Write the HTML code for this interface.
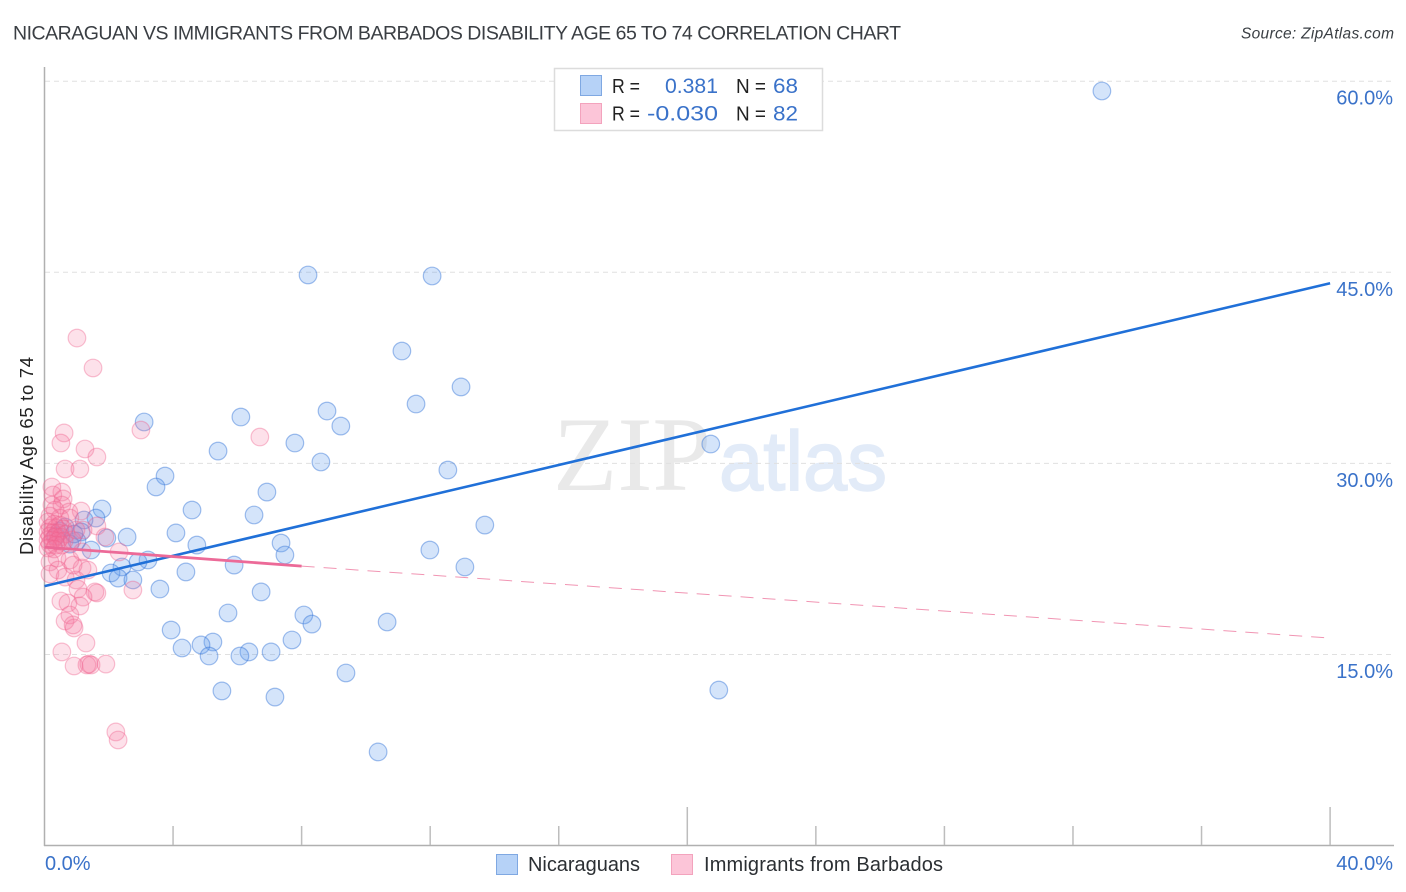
<!DOCTYPE html>
<html lang="en">
<head>
<meta charset="utf-8">
<title>Nicaraguan vs Immigrants from Barbados Disability Age 65 to 74 Correlation Chart</title>
<style>
html,body{margin:0;padding:0;background:#fff;width:1406px;height:892px;overflow:hidden}
svg{display:block;font-family:"Liberation Sans",sans-serif}
</style>
</head>
<body>
<svg id="chart" width="1406" height="892" viewBox="0 0 1406 892" xmlns="http://www.w3.org/2000/svg">
  <rect width="1406" height="892" fill="#fff"/>
  <text x="13" y="39.500" font-size="19.500" fill="#3a3e43" textLength="888" lengthAdjust="spacing">NICARAGUAN VS IMMIGRANTS FROM BARBADOS DISABILITY AGE 65 TO 74 CORRELATION CHART</text>
  <text x="1394" y="38.500" font-size="15.500" font-style="italic" fill="#3a3f44" text-anchor="end" textLength="153" lengthAdjust="spacing">Source: ZipAtlas.com</text>
  <g>
    <text x="553" y="490" font-family="'Liberation Serif',serif" font-size="106" fill="#e9e9e9" textLength="158" lengthAdjust="spacingAndGlyphs">ZIP</text>
    <text x="719" y="490" font-size="84" fill="#e2ebf8" stroke="#e2ebf8" stroke-width="1.500" textLength="168" lengthAdjust="spacingAndGlyphs">atlas</text>
  </g>
  <g id="grid"></g>
  <g id="axes"></g>
  <g id="pointsBlue"></g>
  <g id="pointsPink"></g>
  <g id="trends"></g>
  <text transform="translate(33,555) rotate(-90)" font-size="18.500" fill="#222" textLength="198" lengthAdjust="spacing">Disability Age 65 to 74</text>

  <g>
    <rect x="554.500" y="68.500" width="268" height="62" fill="#fff" stroke="#dcdcdc" stroke-width="1.500"/>
    <rect x="580.500" y="75.500" width="21" height="20" fill="#b6d2f7" stroke="#7fa8e2" stroke-width="1"/>
    <rect x="580.500" y="103.500" width="21" height="20" fill="#fcc5d8" stroke="#f3a3bd" stroke-width="1"/>
    <text x="612" y="93" font-size="20" fill="#222" textLength="28" lengthAdjust="spacingAndGlyphs">R =</text>
    <text x="665" y="93" font-size="21" fill="#3a72c9" textLength="53" lengthAdjust="spacingAndGlyphs">0.381</text>
    <text x="736" y="93" font-size="20" fill="#222" textLength="30" lengthAdjust="spacingAndGlyphs">N =</text>
    <text x="773" y="93" font-size="21" fill="#3a72c9" textLength="25" lengthAdjust="spacingAndGlyphs">68</text>
    <text x="612" y="120.500" font-size="20" fill="#222" textLength="28" lengthAdjust="spacingAndGlyphs">R =</text>
    <text x="647" y="120.500" font-size="21" fill="#3a72c9" textLength="71" lengthAdjust="spacingAndGlyphs">-0.030</text>
    <text x="736" y="120.500" font-size="20" fill="#222" textLength="30" lengthAdjust="spacingAndGlyphs">N =</text>
    <text x="773" y="120.500" font-size="21" fill="#3a72c9" textLength="25" lengthAdjust="spacingAndGlyphs">82</text>
  </g>

  <g>
    <rect x="496.500" y="854.500" width="21" height="20" fill="#b6d2f7" stroke="#7fa8e2" stroke-width="1"/>
    <text x="528" y="871" font-size="20" fill="#2b2f33" textLength="112" lengthAdjust="spacing">Nicaraguans</text>
    <rect x="671.500" y="854.500" width="21" height="20" fill="#fcc5d8" stroke="#f3a3bd" stroke-width="1"/>
    <text x="704" y="871" font-size="20" fill="#2b2f33" textLength="239" lengthAdjust="spacing">Immigrants from Barbados</text>
  </g>
</svg>
<script>
const yTickValues = [15, 30, 45, 60];
const yTickLabels = ["15.0%", "30.0%", "45.0%", "60.0%"];
const xTickValues = [4, 8, 12, 16, 20, 24, 28, 32, 36, 40];
const xMajorTicks = [20, 40];
const xEndValues = [0, 40];
const xEndLabels = ["0.0%", "40.0%"];

const nicaraguansX = [32.90,8.20,12.06,11.12,12.96,11.56,8.79,6.11,3.10,9.22,7.79,20.73,5.40,8.60,12.55,3.75,3.47,6.92,4.59,6.52,1.79,13.70,1.60,1.23,4.09,2.57,1.94,4.74,7.36,7.48,11.99,1.45,1.14,0.79,3.22,2.91,5.90,13.08,2.41,2.07,2.29,4.40,2.75,3.59,6.74,5.71,8.07,8.32,10.66,3.94,7.70,5.24,4.87,4.28,7.05,6.36,6.08,5.12,9.38,5.52,20.98,7.17,10.38,1.01,0.48,0.64,0.36,0.92];
const nicaraguansY = [59.23,44.79,44.71,38.82,36.00,34.66,34.11,33.64,33.25,32.93,31.60,31.52,30.97,30.11,29.48,29.01,28.15,27.75,26.34,25.95,26.42,25.16,25.71,25.56,24.54,24.22,24.14,23.59,23.75,22.81,23.20,23.20,24.62,23.67,22.42,22.26,22.02,21.87,21.87,21.40,21.00,21.48,20.85,20.14,19.91,18.26,18.10,17.39,17.55,16.92,16.14,15.98,15.75,15.51,15.20,15.20,14.88,14.88,13.55,12.14,12.21,11.66,7.35,23.91,24.69,25.01,24.30,24.46];

const barbadosX = [1.01,1.51,3.00,6.70,0.61,0.51,1.26,1.63,0.64,1.10,0.23,0.54,0.26,0.58,0.23,0.54,0.33,1.14,0.76,0.79,0.48,0.17,1.63,1.20,1.88,2.32,0.11,0.30,0.48,0.17,0.36,0.58,0.11,0.26,0.42,0.67,0.17,0.33,0.51,0.11,0.26,0.42,0.61,0.17,0.36,0.54,0.86,0.98,0.11,0.30,0.39,0.79,0.17,1.17,0.42,0.17,0.64,0.98,1.04,1.63,1.57,1.20,2.75,0.51,0.73,1.10,0.79,0.64,0.92,0.89,1.29,0.54,0.92,1.38,1.32,1.45,1.91,2.22,2.29,1.17,0.89,1.35];
const barbadosY = [39.84,37.49,32.62,32.07,32.39,31.60,31.13,30.50,29.56,29.56,28.15,27.75,27.52,27.21,26.73,26.73,26.34,26.26,26.18,25.71,25.71,25.87,25.09,24.77,24.22,23.05,25.40,25.24,25.16,24.93,24.93,24.85,24.61,24.54,24.54,24.46,24.30,24.22,24.22,23.99,23.99,23.91,23.91,23.67,23.59,23.59,23.99,24.77,23.36,23.28,22.57,22.42,22.26,21.79,21.63,21.32,21.08,20.85,20.14,19.83,19.91,19.51,20.06,19.20,19.04,18.81,18.10,17.63,17.08,17.32,15.90,15.20,14.10,14.25,14.18,14.18,14.25,8.92,8.29,23.05,22.02,21.63];

const blueTrendX = [0, 40];
const blueTrendY = [20.37, 44.14];
const pinkSolidX = [0, 8];
const pinkSolidY = [23.43, 21.94];
const pinkDashX = [8, 40];
const pinkDashY = [21.94, 16.29];

const NS = 'http://www.w3.org/2000/svg';
const xScale = v => 44.5 + v * 32.14;
const yScale = v => 654.5 - (v - 15) * 12.74;

function make(tag, attrs, parent) {
  const el = document.createElementNS(NS, tag);
  for (const k in attrs) el.setAttribute(k, attrs[k]);
  parent.appendChild(el);
  return el;
}

const grid = document.getElementById('grid');
const axes = document.getElementById('axes');

yTickValues.forEach((v, i) => {
  const line = make('line', {x1: 45, x2: 1394, y1: yScale(v), y2: yScale(v), stroke: '#e0e0e0', 'stroke-width': 1, 'stroke-dasharray': '5 4'}, grid);
  
  
  const label = make('text', {x: 1393, y: yScale(v) + 23.5, 'font-size': 20, fill: '#3a72c9', 'text-anchor': 'end'}, axes);
  label.textContent = yTickLabels[i];
  
  
});

const yAxis = make('line', {x1: 44.5, x2: 44.5, y1: 67, y2: 846, stroke: '#b0b0b0', 'stroke-width': 1.5}, axes);


const xAxis = make('line', {x1: 44, x2: 1394, y1: 845.5, y2: 845.5, stroke: '#b0b0b0', 'stroke-width': 1.5}, axes);



xTickValues.forEach(v => {
  const top = xMajorTicks.includes(v) ? 807 : 826;
  const tick = make('line', {x1: xScale(v), x2: xScale(v), y1: top, y2: 845, stroke: '#bdbdbd', 'stroke-width': 1.5}, axes);
  
  
});

xEndValues.forEach((v, i) => {
  const anchorX = i === 0 ? 45 : 1393;
  const label = make('text', {x: anchorX, y: 870, 'font-size': 20, fill: '#3a72c9', 'text-anchor': i === 0 ? 'start' : 'end'}, axes);
  label.textContent = xEndLabels[i];
  
  
});

const blueGroup = document.getElementById('pointsBlue');
nicaraguansX.forEach((x, i) => {
  const c = make('circle', {cx: xScale(x), cy: yScale(nicaraguansY[i]), r: 8.8, fill: 'rgba(96,156,236,0.27)', stroke: 'rgba(50,115,215,0.45)', 'stroke-width': 1.2}, blueGroup);
  
  
});

const pinkGroup = document.getElementById('pointsPink');
barbadosX.forEach((x, i) => {
  const c = make('circle', {cx: xScale(x), cy: yScale(barbadosY[i]), r: 8.8, fill: 'rgba(244,120,160,0.22)', stroke: 'rgba(238,95,140,0.38)', 'stroke-width': 1.2}, pinkGroup);
  
  
});

const trends = document.getElementById('trends');
const pinkDash = make('line', {x1: xScale(pinkDashX[0]), y1: yScale(pinkDashY[0]), x2: xScale(pinkDashX[1]), y2: yScale(pinkDashY[1]), stroke: '#f195b3', 'stroke-width': 1, 'stroke-dasharray': '13 9'}, trends);


const blueLine = make('line', {x1: xScale(blueTrendX[0]), y1: yScale(blueTrendY[0]), x2: xScale(blueTrendX[1]), y2: yScale(blueTrendY[1]), stroke: '#2070d8', 'stroke-width': 2.6}, trends);


const pinkLine = make('line', {x1: xScale(pinkSolidX[0]), y1: yScale(pinkSolidY[0]), x2: xScale(pinkSolidX[1]), y2: yScale(pinkSolidY[1]), stroke: '#ec6a98', 'stroke-width': 2.8}, trends);


</script>
</body>
</html>
